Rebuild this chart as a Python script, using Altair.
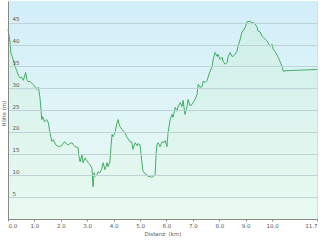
import altair as alt
import pandas as pd

# distance along route (km)
dist_km = [0.00, 0.04, 0.08, 0.11, 0.16, 0.22, 0.27, 0.33, 0.39, 0.45, 0.52, 0.58, 0.63, 0.67, 0.71,
           0.76, 0.83, 0.92, 1.02, 1.09, 1.15, 1.21, 1.25, 1.28, 1.31, 1.38, 1.47, 1.53, 1.59, 1.66,
           1.72, 1.81, 1.91, 2.03, 2.10, 2.16, 2.22, 2.27, 2.35, 2.42, 2.48, 2.54, 2.65, 2.69, 2.73,
           2.80, 2.84, 2.92, 2.97, 3.03, 3.11, 3.18, 3.22, 3.26, 3.30, 3.37, 3.41, 3.48, 3.55, 3.60,
           3.67, 3.75, 3.79, 3.86, 3.90, 3.94, 3.98, 4.05, 4.13, 4.17, 4.20, 4.24, 4.32, 4.43, 4.51,
           4.62, 4.68, 4.73, 4.81, 4.89, 4.92, 5.00, 5.08, 5.11, 5.20, 5.27, 5.33, 5.38, 5.45, 5.49,
           5.57, 5.61, 5.64, 5.68, 5.76, 5.83, 5.90, 5.95, 6.02, 6.06, 6.14, 6.21, 6.25, 6.33, 6.40,
           6.44, 6.52, 6.59, 6.63, 6.70, 6.78, 6.82, 6.89, 6.97, 7.01, 7.08, 7.16, 7.20, 7.27, 7.35,
           7.39, 7.46, 7.54, 7.61, 7.73, 7.77, 7.84, 7.92, 7.95, 8.03, 8.11, 8.14, 8.22, 8.30, 8.33,
           8.41, 8.48, 8.52, 8.60, 8.67, 8.71, 8.79, 8.86, 8.90, 8.98, 9.05, 9.17, 9.24, 9.28, 9.36,
           9.43, 9.47, 9.55, 9.62, 9.66, 9.81, 9.92, 10.00, 10.04, 10.11, 10.23, 10.38, 10.42, 10.49,
           11.70]

# elevation (m)
hoehe_m = [43.5, 42.0, 40.5, 38.0, 37.3, 36.0, 35.0, 34.0, 33.0, 32.4, 32.5, 31.8, 32.8, 33.6, 32.0,
           31.5, 31.6, 31.0, 30.4, 29.7, 30.2, 27.9, 25.0, 22.8, 23.5, 22.3, 22.8, 22.0, 19.8, 17.8,
           18.2, 17.0, 16.6, 16.8, 17.5, 17.7, 17.2, 17.0, 17.3, 17.5, 17.0, 16.6, 16.4, 14.3, 13.1,
           14.7, 12.9, 14.0, 13.5, 13.0, 12.4, 11.7, 7.4, 10.6, 9.8, 10.1, 10.8, 10.6, 11.5, 12.9,
           11.3, 12.9, 12.0, 13.1, 16.6, 19.4, 18.9, 19.8, 22.1, 22.8, 22.0, 21.2, 20.5, 19.8, 18.7,
           17.7, 17.7, 16.0, 17.5, 16.8, 17.3, 17.0, 12.5, 11.0, 10.3, 10.1, 9.6, 9.9, 9.5, 9.7,
           10.1, 15.2, 17.0, 17.5, 16.6, 17.7, 17.5, 18.0, 16.6, 19.8, 22.8, 24.0, 23.3, 25.6, 24.7,
           25.8, 26.7, 25.8, 27.2, 24.0, 25.8, 27.4, 26.0, 26.3, 26.7, 27.4, 28.6, 30.9, 30.2, 30.4,
           31.6, 31.3, 31.8, 33.2, 35.0, 36.6, 38.2, 37.3, 37.8, 36.6, 37.1, 36.2, 35.5, 35.9, 37.1,
           38.2, 37.3, 37.3, 37.8, 38.5, 39.6, 41.2, 42.9, 43.1, 44.0, 45.2, 45.4, 44.9, 45.1, 44.7,
           44.0, 43.1, 42.9, 41.9, 41.7, 40.8, 39.6, 40.1, 38.9, 38.5, 37.1, 35.0, 33.9, 34.0,
           34.3]

x_ticks = [0, 1, 2, 3, 4, 5, 6, 7, 8, 9, 10, 11.7]
y_ticks = [5, 10, 15, 20, 25, 30, 35, 40, 45]

df = pd.DataFrame({"km": dist_km, "h": hoehe_m})

FONT = "DejaVu Sans"
TXT = "#555555"

x_enc = alt.X(
    "km:Q",
    scale=alt.Scale(domain=[0, 11.7], nice=False, zero=False),
    axis=alt.Axis(
        values=x_ticks, format=".1f", labelFlush=True, grid=False,
        tickSize=2, tickColor="#888888", domainColor="#888888", zindex=1,
        labelFont=FONT, labelFontSize=5.5, labelColor=TXT, labelPadding=2,
        title="Distanz \u00a0(km)", titleFont=FONT, titleFontSize=5.5,
        titleFontWeight="normal", titleColor=TXT, titlePadding=3,
    ),
)
y_enc = alt.Y(
    "h:Q",
    scale=alt.Scale(domain=[0, 50], nice=False),
    axis=alt.Axis(
        values=y_ticks, grid=True, gridColor="#bfd2d6", gridWidth=1,
        ticks=False, domainColor="#888888", zindex=1,
        labelAlign="left", labelBaseline="bottom", labelPadding=-4, labelOffset=-1,
        labelFont=FONT, labelFontSize=5.5, labelColor=TXT,
        title="H\u00f6he (m)", titleFont=FONT, titleFontSize=5.5,
        titleFontWeight="normal", titleColor=TXT,
        titleX=-5, titleY=112, titleBaseline="middle", titleAngle=-90,
    ),
)

bg = alt.Chart(pd.DataFrame({"k": [0]})).mark_rect(
    color=alt.Gradient(
        gradient="linear", x1=0, y1=0, x2=0, y2=1,
        stops=[alt.GradientStop(color="#d2eefa", offset=0),
               alt.GradientStop(color="#ecfbf3", offset=1)],
    ),
).encode(x=alt.value(0), x2=alt.value("width"), y=alt.value(0), y2=alt.value("height"))

base = alt.Chart(df).encode(x=x_enc, y=y_enc)
area = base.mark_area(
    color=alt.Gradient(
        gradient="linear", x1=0, y1=0, x2=0, y2=1,
        stops=[alt.GradientStop(color="#c6eed2", offset=0),
               alt.GradientStop(color="#e6f9ee", offset=1)],
    ),
    opacity=0.4,
)
line = base.mark_line(color="#33a655", strokeWidth=0.9)

chart = (
    alt.layer(bg, area, line)
    .properties(width=309, height=218,
                autosize=alt.AutoSizeParams(type="none"),
                padding={"left": 8, "top": 1, "right": 3, "bottom": 22})
    .configure_view(stroke=None)
    .configure(background="white")
)

chart.save("out.html", embed_options={"renderer": "svg", "actions": False})
